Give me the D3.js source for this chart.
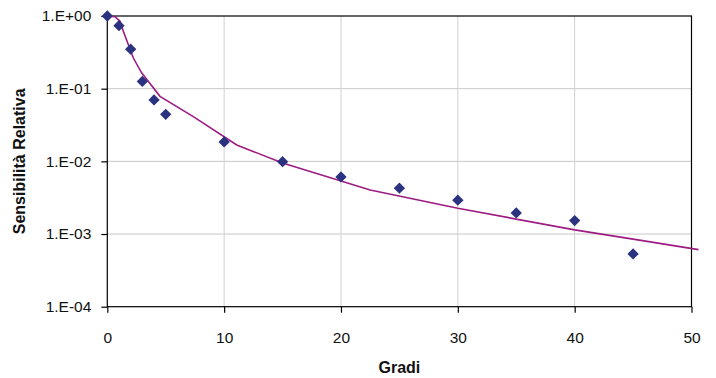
<!DOCTYPE html>
<html>
<head>
<meta charset="utf-8">
<script src="https://cdn.jsdelivr.net/npm/d3@7"></script>
<style>
  body { margin: 0; background: #fff; }
  text { font-family: "Liberation Sans", Arial, Helvetica, sans-serif; }
</style>
</head>
<body>
<div id="chart"></div>
<script>
// measured points (diamonds)
const pointX = [0, 1, 2, 3, 4, 5, 10, 15, 20, 25, 30, 35, 40, 45];
const pointY = [1.0, 0.735, 0.35, 0.126, 0.070, 0.0444, 0.0185, 0.0099, 0.0061, 0.00427, 0.00292, 0.00195, 0.00153, 0.000532];

// theoretical curve
const curveX = [0, 0.66, 1.09, 1.37, 2.23, 2.95, 4.51, 7.36, 11.08, 15, 22.5, 30, 40, 45, 50.6];
const curveY = [1.0, 0.977, 0.845, 0.615, 0.264, 0.164, 0.0785, 0.0412, 0.0168, 0.0095, 0.00404, 0.00226, 0.00114, 0.00085, 0.00061];

const xTicks = [0, 10, 20, 30, 40, 50];
const yTicks = [1e-4, 1e-3, 1e-2, 1e-1, 1];

const xTitle = 'Gradi';
const yTitle = 'Sensibilità Relativa';

const W = 716, H = 378;
const pLeft = 107.3, pRight = 691.5, pTop = 16, pBottom = 306.7;

const svg = d3.select('#chart').append('svg')
  .attr('width', W)
  .attr('height', H);

const x = d3.scaleLinear([0, 50], [pLeft, pRight]);
const y = d3.scaleLog([1e-4, 1], [pBottom, pTop]);

// gridlines
svg.append('g')
  .selectAll('line')
  .data(yTicks.slice(1, -1))
  .join('line')
    .attr('x1', pLeft)
    .attr('x2', pRight)
    .attr('y1', d => y(d))
    .attr('y2', d => y(d))
    .attr('stroke', '#c8c8c8')
    .attr('stroke-width', 1);

svg.append('g')
  .selectAll('line')
  .data(xTicks.slice(1, -1))
  .join('line')
    .attr('x1', d => x(d))
    .attr('x2', d => x(d))
    .attr('y1', pTop)
    .attr('y2', pBottom)
    .attr('stroke', '#d0d0d0')
    .attr('stroke-width', 1);

// frame
svg.append('rect')
  .attr('x', pLeft)
  .attr('y', pTop)
  .attr('width', pRight - pLeft)
  .attr('height', pBottom - pTop)
  .attr('fill', 'none')
  .attr('stroke', '#000')
  .attr('stroke-width', 1.2);

const fmt = d => '1.E' + (Math.log10(d) < 0 ? '-' : '+') + String(Math.abs(Math.round(Math.log10(d)))).padStart(2, '0');

const yAxis = svg.append('g')
  .attr('transform', `translate(${pLeft},0)`)
  .call(d3.axisLeft(y).tickValues(yTicks).tickFormat(fmt).tickSize(6).tickPadding(10));
yAxis.select('.domain').remove();
yAxis.selectAll('text')
  .attr('font-size', 15.5)
  .attr('fill', '#111')
  .style('font-family', '"Liberation Sans", Arial, sans-serif');

const xAxis = svg.append('g')
  .attr('transform', `translate(0,${pBottom})`)
  .call(d3.axisBottom(x).tickValues(xTicks).tickFormat(d3.format('d')).tickSize(6).tickPadding(19.2));
xAxis.select('.domain').remove();
xAxis.selectAll('text')
  .attr('font-size', 15.5)
  .attr('fill', '#111')
  .style('font-family', '"Liberation Sans", Arial, sans-serif');
svg.selectAll('.tick line').attr('stroke', '#000').attr('stroke-width', 1.2);

// curve
const curve = curveX.map((d, i) => ({x: d, y: curveY[i]}));
svg.append('path')
  .datum(curve)
  .attr('fill', 'none')
  .attr('stroke', '#9c1c82')
  .attr('stroke-width', 1.6)
  .attr('d', d3.line().x(d => x(d.x)).y(d => y(d.y)));

// diamonds
const pts = pointX.map((d, i) => ({x: d, y: pointY[i]}));
svg.append('g')
  .selectAll('path')
  .data(pts)
  .join('path')
    .attr('transform', d => `translate(${x(d.x)},${y(d.y)}) rotate(45)`)
    .attr('d', d3.symbol(d3.symbolSquare, 64)())
    .attr('fill', '#2b3280');

// titles
svg.append('text')
  .attr('x', (pLeft + pRight) / 2)
  .attr('y', 373)
  .attr('text-anchor', 'middle')
  .attr('font-size', 16)
  .attr('font-weight', 'bold')
  .attr('fill', '#111')
  .text(xTitle);

svg.append('text')
  .attr('transform', `translate(25,${(pTop + pBottom) / 2}) rotate(-90)`)
  .attr('text-anchor', 'middle')
  .attr('font-size', 16)
  .attr('font-weight', 'bold')
  .attr('fill', '#111')
  .text(yTitle);
</script>
</body>
</html>
